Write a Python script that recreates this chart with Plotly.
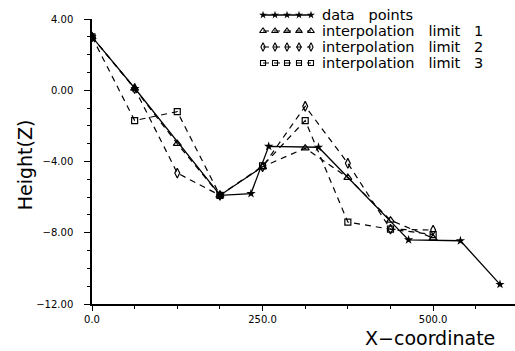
import numpy as np
import plotly.graph_objects as go

# Measured profile: irregularly spaced survey points
data_x = [0, 63, 188, 233, 259, 332, 464, 540, 598]
data_z = [3.0, 0.1, -5.9, -5.8, -3.15, -3.2, -8.4, -8.45, -10.9]

# Interpolated profiles on a regular 62.5 grid
grid_x = [0, 62.5, 125, 187.5, 250, 312.5, 375, 437.5, 500]
limit1_z = [3.0, 0.1, -3.0, -5.9, -4.3, -3.25, -4.9, -7.3, -8.3]
limit2_z = [3.0, 0.1, -4.65, -5.9, -4.3, -0.9, -4.1, -7.8, -7.85]
limit3_z = [3.0, -1.7, -1.2, -5.9, -4.25, -1.7, -7.4, -7.8, -8.1]

SP = "\u00a0\u00a0\u00a0"
labels = ["data" + SP + "points",
          "interpolation" + SP + "limit" + SP + "1",
          "interpolation" + SP + "limit" + SP + "2",
          "interpolation" + SP + "limit" + SP + "3"]

FONT = "DejaVu Sans"
DASH = "6px,5px"

styles = [
    dict(symbol="star", size=7, lw=0, width=1.3, dash="solid"),
    dict(symbol="triangle-up-open", size=7, lw=1.2, width=1.2, dash=DASH),
    dict(symbol="diamond-tall-open", size=7, lw=1.2, width=1.2, dash=DASH),
    dict(symbol="square-open", size=6, lw=1.2, width=1.2, dash=DASH),
]
series = [(data_x, data_z), (grid_x, limit1_z), (grid_x, limit2_z), (grid_x, limit3_z)]

fig = go.Figure()

for (xs, zs), st, lab in zip(series, styles, labels):
    fig.add_trace(go.Scatter(
        x=xs, y=zs, name=lab, mode="lines+markers", showlegend=False,
        line=dict(color="black", width=st["width"], dash=st["dash"]),
        marker=dict(symbol=st["symbol"], size=st["size"], color="black",
                    line=dict(color="black", width=st["lw"]))))

# Key: a row of five sample symbols per series in a small inset subplot
sample_x = np.linspace(0, 1, 5)
for i, (st, lab) in enumerate(zip(styles, labels)):
    fig.add_trace(go.Scatter(
        x=sample_x, y=[i] * len(sample_x), mode="lines+markers",
        showlegend=False, hoverinfo="skip", cliponaxis=False,
        xaxis="x2", yaxis="y2",
        line=dict(color="black", width=st["width"], dash=st["dash"]),
        marker=dict(symbol=st["symbol"], size=st["size"] - 1, color="black",
                    line=dict(color="black", width=min(st["lw"], 1.1)))))
    fig.add_annotation(text=lab, xref="paper", yref="y2", x=0.539, y=i,
                       xanchor="left", yanchor="middle", showarrow=False,
                       font=dict(size=14.5, family=FONT))

fig.update_layout(
    width=515, height=351,
    margin=dict(l=92, r=0, t=0, b=47),
    paper_bgcolor="white", plot_bgcolor="white",
    font=dict(family=FONT, color="black"),
    showlegend=False,
    xaxis=dict(range=[0, 620], tickvals=[0, 250, 500], tickformat=".1f",
               showgrid=False, zeroline=False, showline=True,
               linecolor="black", linewidth=1.5,
               ticks="outside", ticklen=5, tickwidth=1.3, tickcolor="black",
               tickfont=dict(size=10), automargin=False,
               minor=dict(dtick=62.5, tick0=0, ticks="outside", ticklen=3,
                          tickcolor="black", showgrid=False)),
    yaxis=dict(domain=[0, 0.9375], range=[-12, 4], dtick=4, tick0=0,
               tickformat=".2f",
               showgrid=False, zeroline=False, showline=True,
               linecolor="black", linewidth=1.5,
               ticks="outside", ticklen=6, tickwidth=1.3, tickcolor="black",
               tickfont=dict(size=10), ticklabelstandoff=9, automargin=False,
               minor=dict(dtick=1, ticks="outside", ticklen=3,
                          tickcolor="black", showgrid=False)),
    xaxis2=dict(domain=[0.4043, 0.5177], range=[0, 1], anchor="y2",
                visible=False, fixedrange=True),
    yaxis2=dict(domain=[0.7664, 0.977], range=[3.5, -0.5], anchor="x2",
                visible=False, fixedrange=True),
)

fig.add_annotation(text="Height(Z)", xref="paper", yref="paper",
                   x=-0.158, y=0.457, textangle=-90, showarrow=False,
                   font=dict(size=19, family=FONT), xanchor="center",
                   yanchor="middle")
fig.add_annotation(text="X\u2212coordinate", xref="paper", yref="paper",
                   x=0.957, y=-0.112, showarrow=False,
                   font=dict(size=19, family=FONT), xanchor="right",
                   yanchor="middle")

fig.write_html("out.html")
